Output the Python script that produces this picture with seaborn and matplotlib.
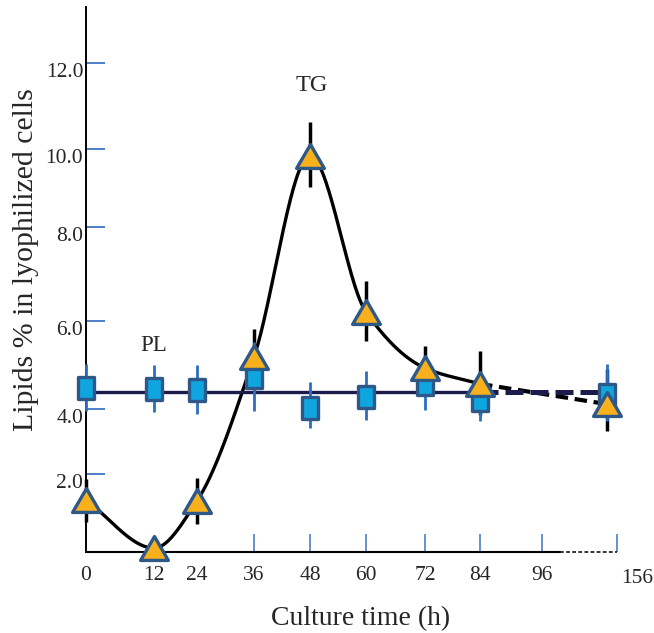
import numpy as np
import matplotlib
matplotlib.use("Agg")
import matplotlib.pyplot as plt
import matplotlib.transforms as mtransforms
from matplotlib.path import Path
import seaborn as sns

# values
hours = [0, 12, 24, 36, 48, 60, 72, 84, 156]
pl_values = [4.48, 4.45, 4.43, 4.73, 4.02, 4.27, 4.57, 4.20, 4.32]
pl_err = [0.55, 0.55, 0.57, 0.80, 0.60, 0.60, 0.60, 0.57, 0.70]
pl_level = 4.38
tg_values = [1.33, 0.10, 1.31, 5.18, 9.82, 6.19, 4.93, 4.57, 4.11]
tg_err = [0.55, 0.0, 0.58, 0.64, 0.80, 0.65, 0.50, 0.75, 0.80]
x_ticks = [0, 12, 24, 36, 48, 60, 72, 84, 96, 156]
x_marks = [36, 48, 60, 72, 84, 96]
y_ticks = [2, 4, 6, 8, 10, 12]

# the original axes are hand drawn, spacing is uneven -> piecewise linear scales
x_h = [-100, 0, 12, 24, 36, 48, 60, 72, 84, 96, 156, 400]
x_px = [-560, 0, 68, 111, 168, 224, 280, 339, 394, 456, 521, 826]
y_v = [-10, 0, 2, 4, 6, 8, 10, 12, 30]
y_px = [-390, 0, 78, 143, 231, 325, 403, 489, 1263]


def fx(x):
    return np.interp(x, x_h, x_px)


def ix(p):
    return np.interp(p, x_px, x_h)


def fy(v):
    return np.interp(v, y_v, y_px)


def iy(p):
    return np.interp(p, y_px, y_v)


def pchip(x, y, xs):
    x = np.asarray(x, float)
    y = np.asarray(y, float)
    h = np.diff(x)
    d = np.diff(y) / h
    m = np.zeros_like(y)
    m[0], m[-1] = d[0], d[-1]
    for k in range(1, len(x) - 1):
        if d[k - 1] * d[k] > 0:
            w1 = 2 * h[k] + h[k - 1]
            w2 = h[k] + 2 * h[k - 1]
            m[k] = (w1 + w2) / (w1 / d[k - 1] + w2 / d[k])
    idx = np.clip(np.searchsorted(x, xs) - 1, 0, len(x) - 2)
    t = (xs - x[idx]) / h[idx]
    h00 = 2 * t**3 - 3 * t**2 + 1
    h10 = t**3 - 2 * t**2 + t
    h01 = -2 * t**3 + 3 * t**2
    h11 = t**3 - t**2
    return (h00 * y[idx] + h10 * h[idx] * m[idx]
            + h01 * y[idx + 1] + h11 * h[idx] * m[idx + 1])


sns.set_style("white")
plt.rcParams['font.family'] = ['Liberation Serif', 'DejaVu Serif']

fig = plt.figure(figsize=(6.54, 6.33), dpi=100)
ax = fig.add_axes([86 / 654, 81 / 633, 531 / 654, 545 / 633])
ax.set_xscale('function', functions=(fx, ix))
ax.set_yscale('function', functions=(fy, iy))
ax.set_xlim(0, 164)
ax.set_ylim(0, 13.3)

# TG smooth curve (solid up to 84 h), then dashed to 156 h
t = fx(np.array(hours[:8], float))
u = fy(np.array(tg_values[:8], float))
ts = np.linspace(t[0], t[-1], 400)
sns.lineplot(x=ix(ts), y=iy(pchip(t, u, ts)), sort=False, estimator=None,
             color='black', lw=2.4, ax=ax, zorder=2)
sns.lineplot(x=hours[7:], y=tg_values[7:], sort=False, estimator=None,
             color='black', lw=3, ax=ax, zorder=2, dashes=False)
ax.lines[-1].set_dashes((3, 1.6))

# PL level line
sns.lineplot(x=[hours[0], hours[7]], y=[pl_level, pl_level], estimator=None,
             color='#1b1c4c', lw=2.4, ax=ax, zorder=2)
sns.lineplot(x=[hours[7], hours[8]], y=[pl_level, pl_level], estimator=None,
             color='#1b1c4c', lw=3.6, ax=ax, zorder=2)
ax.lines[-1].set_dashes((3.6, 1.4))

# error bars
eb = ax.errorbar(hours, tg_values, yerr=tg_err, fmt='none', ecolor='black',
                 elinewidth=2.5, capsize=0, zorder=2.5)
for c in eb.lines[2]:
    c.set_clip_on(False)
eb = ax.errorbar(hours, pl_values, yerr=pl_err, fmt='none', ecolor='#2a6fc0',
                 elinewidth=2.0, capsize=0, zorder=3)
for c in eb.lines[2]:
    c.set_clip_on(False)

# markers
rect = Path([(-0.72, -1), (0.72, -1), (0.72, 1), (-0.72, 1), (-0.72, -1)],
            [Path.MOVETO, Path.LINETO, Path.LINETO, Path.LINETO, Path.CLOSEPOLY])
tri = Path([(0, 0.86), (-1, -0.86), (1, -0.86), (0, 0.86)],
           [Path.MOVETO, Path.LINETO, Path.LINETO, Path.CLOSEPOLY])
sns.scatterplot(x=hours, y=pl_values, marker=rect, s=15.5**2, color='#0fa6e0',
                edgecolor='#2e5887', linewidth=2.4, ax=ax, zorder=4, clip_on=False)
sns.scatterplot(x=hours, y=tg_values, marker=tri, s=20**2, color='#f8b01c',
                edgecolor='#2e5887', linewidth=2.4, ax=ax, zorder=5, clip_on=False)

ax.text(12, 5.45, 'PL', fontsize=16.5, ha='center', va='center')
ax.text(48.3, 11.47, 'TG', fontsize=17.5, ha='center', va='center')

# axes look
for s in ['top', 'right', 'bottom']:
    ax.spines[s].set_visible(False)
ax.spines['left'].set_linewidth(1.4)
ax.spines['left'].set_color('black')
ax.plot([0, 112.6], [0, 0], color='black', lw=1.5, transform=ax.get_xaxis_transform(),
        clip_on=False)
ax.plot([112.6, 164], [0, 0], color='black', lw=1.1, transform=ax.get_xaxis_transform(),
        clip_on=False, dashes=(2.5, 1.5))

ax.xaxis.remove_overlapping_locs = False
ax.set_xticks(x_ticks)
ax.set_xticklabels([str(v) for v in x_ticks])
ax.set_xticks(x_marks + [164], minor=True)
ax.tick_params(axis='x', which='major', bottom=True, length=0, pad=10, labelsize=15.5)
ax.tick_params(axis='x', which='minor', bottom=True, direction='in', length=13,
               width=1.2, color='#4a80c8')
last = ax.get_xticklabels()[-1]
last.set_transform(last.get_transform()
                   + mtransforms.ScaledTranslation(0.30, -0.03, fig.dpi_scale_trans))

ax.set_yticks(y_ticks)
ax.set_yticklabels([f'{v:.1f}' for v in y_ticks])
ax.yaxis.set_minor_locator(matplotlib.ticker.NullLocator())
ax.tick_params(axis='y', which='major', left=True, direction='in', length=14,
               width=1.4, color='#4a80c8', pad=2, labelsize=15.5)
for lab in ax.get_yticklabels():
    lab.set_transform(lab.get_transform()
                      + mtransforms.ScaledTranslation(0, -0.07, fig.dpi_scale_trans))

ax.set_xlabel('Culture time (h)', fontsize=20)
ax.xaxis.set_label_coords(0.518, -0.099)
ax.set_ylabel('Lipids % in lyophilized cells', fontsize=21.5)
ax.yaxis.set_label_coords(-0.0876, 0.536)

fig.savefig('out.png', dpi=100)
